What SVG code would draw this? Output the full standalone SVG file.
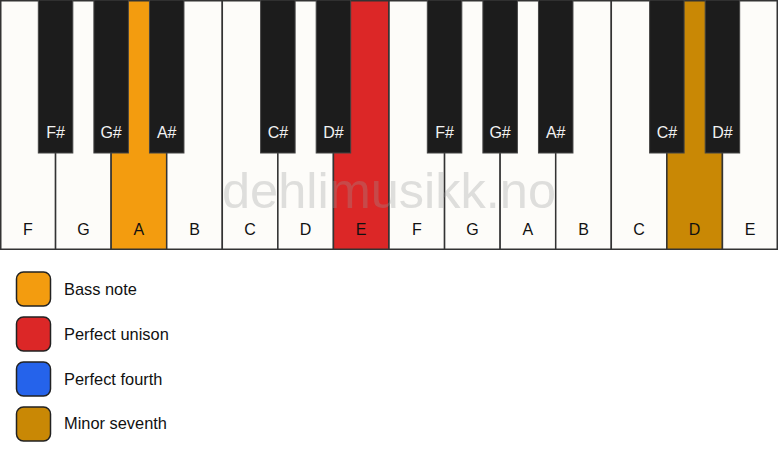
<svg xmlns="http://www.w3.org/2000/svg" width="778" height="461" viewBox="0 0 778 461">
<style>
.w{fill:#fdfcf9;stroke:#333;stroke-width:1.5}
.b{fill:#1c1c1c;stroke:#444;stroke-width:1}
.wl{font-family:"Liberation Sans",Arial,sans-serif;font-size:16px;fill:#111;text-anchor:middle}
.bl{font-family:"Liberation Sans",Arial,sans-serif;font-size:16px;fill:#f2f2f2;text-anchor:middle}
.lg{stroke:#222;stroke-width:1.5}
.lt{font-family:"Liberation Sans",Arial,sans-serif;font-size:16.4px;fill:#111}
.bass{fill:#f39c0f}
.uni{fill:#dc2727}
.fourth{fill:#2563eb}
.sev{fill:#c98805}
</style>
<rect x="0" y="0" width="778" height="461" fill="#ffffff"/>
<g id="white-keys">
<g id="key-F1"><rect class="w" x="0.75" y="0.75" width="54.82" height="248.5"/><text class="wl" x="27.8" y="235">F</text></g>
<g id="key-G1"><rect class="w" x="55.57" y="0.75" width="55.57" height="248.5"/><text class="wl" x="83.4" y="235">G</text></g>
<g id="key-A1"><rect class="w bass" x="111.14" y="0.75" width="55.57" height="248.5"/><text class="wl" x="138.9" y="235">A</text></g>
<g id="key-B1"><rect class="w" x="166.71" y="0.75" width="55.57" height="248.5"/><text class="wl" x="194.5" y="235">B</text></g>
<g id="key-C1"><rect class="w" x="222.29" y="0.75" width="55.57" height="248.5"/><text class="wl" x="250.1" y="235">C</text></g>
<g id="key-D1"><rect class="w" x="277.86" y="0.75" width="55.57" height="248.5"/><text class="wl" x="305.6" y="235">D</text></g>
<g id="key-E1"><rect class="w uni" x="333.43" y="0.75" width="55.57" height="248.5"/><text class="wl" x="361.2" y="235">E</text></g>
<g id="key-F2"><rect class="w" x="389" y="0.75" width="55.57" height="248.5"/><text class="wl" x="416.8" y="235">F</text></g>
<g id="key-G2"><rect class="w" x="444.57" y="0.75" width="55.57" height="248.5"/><text class="wl" x="472.4" y="235">G</text></g>
<g id="key-A2"><rect class="w" x="500.14" y="0.75" width="55.57" height="248.5"/><text class="wl" x="527.9" y="235">A</text></g>
<g id="key-B2"><rect class="w" x="555.71" y="0.75" width="55.57" height="248.5"/><text class="wl" x="583.5" y="235">B</text></g>
<g id="key-C2"><rect class="w" x="611.29" y="0.75" width="55.57" height="248.5"/><text class="wl" x="639.1" y="235">C</text></g>
<g id="key-D2"><rect class="w sev" x="666.86" y="0.75" width="55.57" height="248.5"/><text class="wl" x="694.6" y="235">D</text></g>
<g id="key-E2"><rect class="w" x="722.43" y="0.75" width="54.82" height="248.5"/><text class="wl" x="750.2" y="235">E</text></g>
</g>
<text id="watermark" x="389" y="208" font-family="'Liberation Sans',Arial,sans-serif" font-size="50.5" text-anchor="middle" fill="#999" fill-opacity="0.3">dehlimusikk.no</text>
<g id="black-keys">
<g id="key-Fs1"><rect class="b" x="38.32" y="0" width="34.5" height="153"/><text class="bl" x="55.6" y="138">F#</text></g>
<g id="key-Gs1"><rect class="b" x="93.89" y="0" width="34.5" height="153"/><text class="bl" x="111.1" y="138">G#</text></g>
<g id="key-As1"><rect class="b" x="149.46" y="0" width="34.5" height="153"/><text class="bl" x="166.7" y="138">A#</text></g>
<g id="key-Cs1"><rect class="b" x="260.61" y="0" width="34.5" height="153"/><text class="bl" x="277.9" y="138">C#</text></g>
<g id="key-Ds1"><rect class="b" x="316.18" y="0" width="34.5" height="153"/><text class="bl" x="333.4" y="138">D#</text></g>
<g id="key-Fs2"><rect class="b" x="427.32" y="0" width="34.5" height="153"/><text class="bl" x="444.6" y="138">F#</text></g>
<g id="key-Gs2"><rect class="b" x="482.89" y="0" width="34.5" height="153"/><text class="bl" x="500.1" y="138">G#</text></g>
<g id="key-As2"><rect class="b" x="538.46" y="0" width="34.5" height="153"/><text class="bl" x="555.7" y="138">A#</text></g>
<g id="key-Cs2"><rect class="b" x="649.61" y="0" width="34.5" height="153"/><text class="bl" x="666.9" y="138">C#</text></g>
<g id="key-Ds2"><rect class="b" x="705.18" y="0" width="34.5" height="153"/><text class="bl" x="722.4" y="138">D#</text></g>
</g>
<g id="legend">
<g id="legend-bass"><rect class="lg bass" x="16.5" y="272" width="34" height="34" rx="7"/><text class="lt" x="64" y="294.5">Bass note</text></g>
<g id="legend-unison"><rect class="lg uni" x="16.5" y="317" width="34" height="34" rx="7"/><text class="lt" x="64" y="339.5">Perfect unison</text></g>
<g id="legend-fourth"><rect class="lg fourth" x="16.5" y="362" width="34" height="34" rx="7"/><text class="lt" x="64" y="384.5">Perfect fourth</text></g>
<g id="legend-seventh"><rect class="lg sev" x="16.5" y="407" width="34" height="34" rx="7"/><text class="lt" x="64" y="429">Minor seventh</text></g>
</g>
</svg>
